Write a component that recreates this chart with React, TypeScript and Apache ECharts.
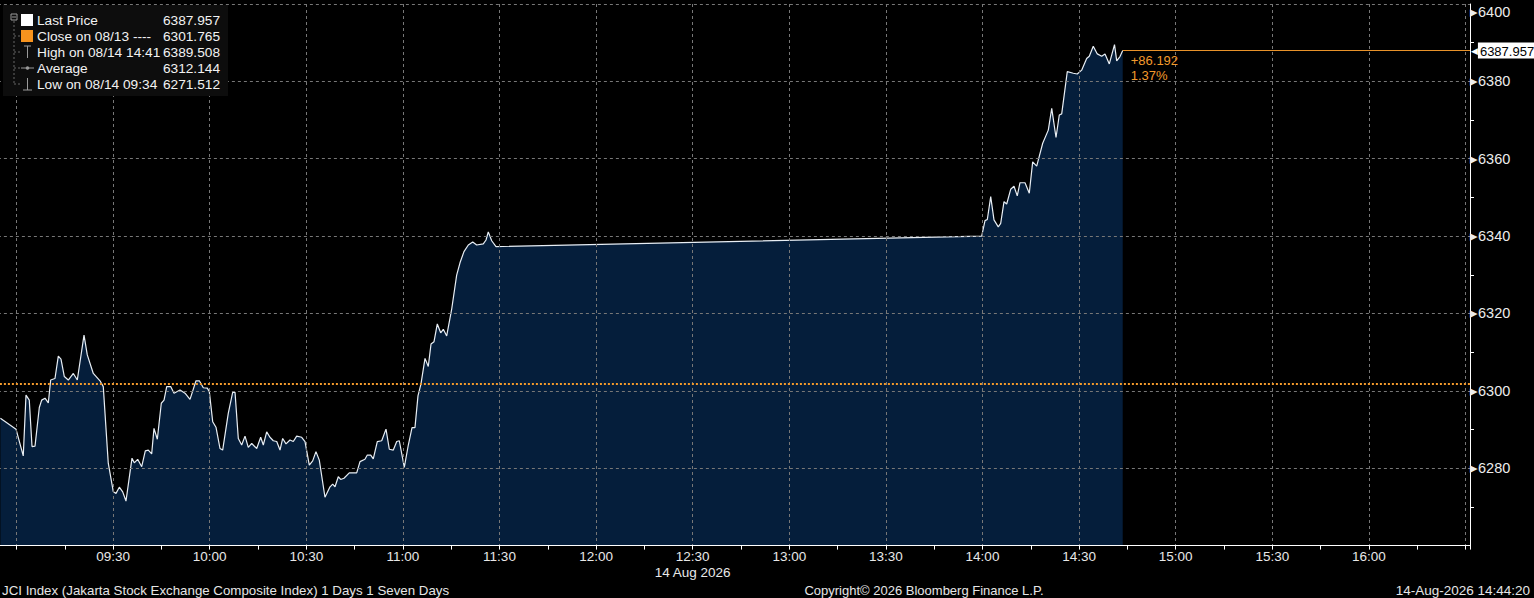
import React, { useEffect, useRef } from "react";
import * as echarts from "echarts";

// ---- data -----------------------------------------------------------------
const times: string[] = [
  "08:55:00", "08:59:51", "09:02:06", "09:02:57", "09:03:58", "09:04:49", "09:05:45", "09:07:05",
  "09:07:49", "09:08:51", "09:09:53", "09:10:37", "09:11:57", "09:12:59", "09:13:49", "09:14:51",
  "09:16:05", "09:17:39", "09:18:53", "09:20:58", "09:21:59", "09:23:51", "09:25:56", "09:26:57",
  "09:28:30", "09:30:04", "09:30:54", "09:31:56", "09:32:59", "09:34:00", "09:35:52", "09:36:35",
  "09:37:38", "09:38:53", "09:40:00", "09:40:56", "09:41:59", "09:42:42", "09:43:44", "09:44:58",
  "09:45:49", "09:46:39", "09:47:53", "09:48:55", "09:50:47", "09:52:20", "09:53:53", "09:55:45",
  "09:56:47", "09:58:01", "09:59:15", "09:59:53", "10:00:56", "10:01:57", "10:03:12", "10:04:02",
  "10:05:46", "10:07:08", "10:07:52", "10:08:53", "10:09:56", "10:10:58", "10:11:59", "10:13:03",
  "10:14:36", "10:15:50", "10:16:39", "10:17:42", "10:18:43", "10:19:45", "10:20:49", "10:21:50",
  "10:22:40", "10:23:42", "10:24:56", "10:25:58", "10:27:01", "10:28:34", "10:29:36", "10:30:56",
  "10:31:59", "10:33:00", "10:34:02", "10:35:48", "10:37:22", "10:38:12", "10:38:55", "10:39:56",
  "10:40:41", "10:41:42", "10:43:21", "10:45:39", "10:46:41", "10:48:13", "10:48:57", "10:50:00",
  "10:50:48", "10:52:03", "10:53:25", "10:54:45", "10:55:47", "10:57:01", "10:58:05", "10:58:53",
  "11:00:26", "11:01:41", "11:02:50", "11:03:45", "11:04:41", "11:05:37", "11:06:52", "11:07:53",
  "11:08:44", "11:09:40", "11:10:41", "11:11:44", "11:12:33", "11:13:36", "11:15:09", "11:16:42",
  "11:17:44", "11:18:58", "11:20:19", "11:21:41", "11:22:55", "11:24:58", "11:25:49", "11:26:31",
  "11:27:35", "11:28:55",
  "13:59:45", "14:00:47", "14:01:30", "14:02:33", "14:03:34", "14:04:54", "14:05:39", "14:06:41",
  "14:07:31", "14:08:45", "14:09:47", "14:10:48", "14:11:39", "14:13:12", "14:14:32", "14:15:35",
  "14:16:50", "14:18:42", "14:20:26", "14:21:30", "14:22:50", "14:23:51", "14:24:36", "14:26:20",
  "14:28:12", "14:29:26", "14:30:48", "14:32:21", "14:33:10", "14:34:24", "14:35:39", "14:37:01",
  "14:38:03", "14:39:23", "14:41:00", "14:41:41", "14:42:42", "14:43:33",
];

const prices: number[] = [
  6292.9, 6290.1, 6283.2, 6298.9, 6297.6, 6285.6, 6285.7, 6295.7,
  6297.6, 6298.1, 6296.9, 6302.8, 6303.2, 6309.0, 6308.2, 6303.7,
  6302.8, 6304.5, 6302.8, 6314.4, 6309.3, 6304.5, 6302.6, 6301.1,
  6281.3, 6273.9, 6273.5, 6275.1, 6273.9, 6271.512, 6282.6, 6281.4,
  6282.3, 6280.4, 6284.5, 6284.7, 6283.7, 6290.3, 6287.5, 6296.8,
  6297.6, 6301.1, 6301.1, 6299.4, 6300.2, 6299.4, 6297.8, 6302.6,
  6302.6, 6300.8, 6300.7, 6299.8, 6292.0, 6290.6, 6285.1, 6284.7,
  6294.2, 6299.6, 6299.6, 6287.7, 6286.0, 6288.3, 6285.4, 6286.4,
  6285.1, 6288.0, 6286.0, 6289.4, 6288.0, 6287.1, 6286.9, 6284.7,
  6287.7, 6286.3, 6287.3, 6286.9, 6288.3, 6288.0, 6286.9, 6280.8,
  6281.9, 6284.3, 6282.1, 6272.5, 6275.2, 6275.9, 6275.2, 6277.8,
  6277.1, 6277.4, 6278.8, 6278.8, 6281.7, 6282.3, 6283.4, 6283.4,
  6282.4, 6286.9, 6287.1, 6290.1, 6284.9, 6284.7, 6286.9, 6287.1,
  6280.2, 6286.0, 6290.5, 6290.5, 6298.7, 6301.8, 6308.4, 6306.3,
  6312.1, 6312.7, 6317.3, 6315.0, 6315.9, 6314.2, 6321.1, 6329.9,
  6333.1, 6336.0, 6337.7, 6338.5, 6337.7, 6338.0, 6339.0, 6341.1,
  6338.8, 6337.3,
  6340.0, 6344.0, 6344.3, 6350.2, 6344.2, 6342.4, 6343.3, 6348.9,
  6348.3, 6352.1, 6352.9, 6350.4, 6353.8, 6353.8, 6351.1, 6359.2,
  6358.1, 6364.0, 6367.4, 6373.0, 6365.5, 6371.3, 6371.6, 6382.5,
  6382.1, 6381.9, 6382.9, 6385.9, 6386.5, 6389.1, 6387.1, 6386.5,
  6387.1, 6384.5, 6389.508, 6385.3, 6386.4, 6387.957,
];

const previousClose = 6301.765;
const legendLabels: string[] = [
  "Last Price",
  "Close on 08/13 ----",
  "High on 08/14 14:41",
  "Average",
  "Low on 08/14 09:34",
];
const legendValues: string[] = ["6387.957", "6301.765", "6389.508", "6312.144", "6271.512"];
const dateLabel = "14 Aug 2026";
const dateLabelTime = "12:30";
const footerLeft = "JCI Index (Jakarta Stock Exchange Composite Index) 1 Days 1 Seven Days";
const footerCenter = "Copyright\u00A9 2026 Bloomberg Finance L.P.";
const footerRight = "14-Aug-2026 14:44:20";

// axis ranges (minutes since midnight / index points)
const xMin = 510; // 08:30 (off-screen, keeps ticks aligned)
const xMax = 991.4;
const xFirstLabel = 570; // 09:30
const xLastLabel = 960; // 16:00
const yMin = 6260;
const yMax = 6400;
const yStep = 20;

const FONT = "'Liberation Sans', Arial, sans-serif";
const ORANGE = "#f39a2c";

const toMinutes = (s: string) => {
  const [h, m, sec] = s.split(":").map(Number);
  return h * 60 + m + (sec || 0) / 60;
};
const fmtHM = (v: number) => {
  const m = Math.round(v);
  const h = Math.floor(m / 60);
  const mm = m % 60;
  return `${String(h).padStart(2, "0")}:${String(mm).padStart(2, "0")}`;
};

export default function App() {
  const ref = useRef<HTMLDivElement>(null);

  useEffect(() => {
    if (!ref.current) return;
    const chart = echarts.init(ref.current, undefined, { renderer: "svg" });

    const seriesData = times.map((t, i) => [toMinutes(t), prices[i]]);
    const lastT = toMinutes(times[times.length - 1]);
    const lastP = prices[prices.length - 1];
    const change = lastP - previousClose;
    const pct = (change / previousClose) * 100;

    const rows = [20, 36, 52, 68, 84];
    const grey = "#9a9a9a";
    const LFS = 13.7;
    const legendGraphics: any[] = [
      { type: "rect", shape: { x: 3, y: 5, width: 225, height: 91 }, style: { fill: "#0d0d0d" }, z: 100 },
      // tree
      { type: "rect", shape: { x: 11, y: 14, width: 6, height: 6 }, style: { fill: "none", stroke: grey, lineWidth: 1 }, z: 101 },
      { type: "line", shape: { x1: 12, y1: 17, x2: 16, y2: 17 }, style: { stroke: grey, lineWidth: 1 }, z: 101 },
      { type: "line", shape: { x1: 14, y1: 21, x2: 14, y2: 84 }, style: { stroke: "#666", lineWidth: 1, lineDash: [2, 2] }, z: 101 },
      ...rows.slice(1).map((y) => ({
        type: "line", shape: { x1: 14, y1: y, x2: 20, y2: y }, style: { stroke: "#666", lineWidth: 1, lineDash: [2, 2] }, z: 101,
      })),
      // icons
      { type: "rect", shape: { x: 21, y: 14, width: 12, height: 12 }, style: { fill: "#ffffff" }, z: 101 },
      { type: "rect", shape: { x: 21, y: 30, width: 12, height: 12 }, style: { fill: "#f7931e" }, z: 101 },
      { type: "line", shape: { x1: 24, y1: 46, x2: 31, y2: 46 }, style: { stroke: grey, lineWidth: 1 }, z: 101 },
      { type: "line", shape: { x1: 27.5, y1: 46, x2: 27.5, y2: 58 }, style: { stroke: grey, lineWidth: 1 }, z: 101 },
      { type: "line", shape: { x1: 21, y1: 68, x2: 34, y2: 68 }, style: { stroke: grey, lineWidth: 1 }, z: 101 },
      { type: "circle", shape: { cx: 27.5, cy: 68, r: 1.8 }, style: { fill: grey }, z: 101 },
      { type: "line", shape: { x1: 27.5, y1: 78, x2: 27.5, y2: 90 }, style: { stroke: grey, lineWidth: 1 }, z: 101 },
      { type: "line", shape: { x1: 23, y1: 90, x2: 32, y2: 90 }, style: { stroke: grey, lineWidth: 1 }, z: 101 },
      ...legendLabels.map((label, i) => ({
        type: "text", x: 37, y: rows[i], z: 101,
        style: { text: label, fill: "#f2f2f2", fontSize: LFS, fontFamily: FONT, textAlign: "left", textVerticalAlign: "middle" },
      })),
      ...legendValues.map((val, i) => ({
        type: "text", x: 220, y: rows[i], z: 101,
        style: { text: val, fill: "#f2f2f2", fontSize: LFS, fontFamily: FONT, textAlign: "right", textVerticalAlign: "middle" },
      })),
    ];

    const FFS = 13;
    const footer: any[] = [
      { type: "text", x: 2, y: 590, z: 101, style: { text: footerLeft, fill: "#e6e6e6", fontSize: 13.3, fontFamily: FONT, textAlign: "left", textVerticalAlign: "middle" } },
      { type: "text", x: 924, y: 590, z: 101, style: { text: footerCenter, fill: "#e6e6e6", fontSize: FFS, fontFamily: FONT, textAlign: "center", textVerticalAlign: "middle" } },
      { type: "text", x: 1530, y: 590, z: 101, style: { text: footerRight, fill: "#e6e6e6", fontSize: 13.5, fontFamily: FONT, textAlign: "right", textVerticalAlign: "middle" } },
    ];

    const gridLine = { color: "#777777", width: 1, type: [3, 3] as any };

    chart.setOption({
      animation: false,
      backgroundColor: "#000000",
      textStyle: { fontFamily: FONT },
      grid: {
        left: -80.1,
        right: 64,
        top: 4,
        bottom: 52.4,
        containLabel: false,
        outerBoundsMode: "none",
      } as any,
      xAxis: {
        type: "value",
        min: xMin,
        max: xMax,
        interval: 30,
        z: 3,
        axisLine: { show: true, lineStyle: { color: "#ffffff", width: 1 } },
        axisTick: { show: true, length: 4, lineStyle: { color: "#ffffff" } },
        minorTick: { show: true, splitNumber: 2, length: 4, lineStyle: { color: "#ffffff" } },
        splitLine: { show: true, lineStyle: gridLine },
        axisLabel: {
          margin: 3,
          color: "#e8e8e8",
          fontSize: 13.5,
          fontFamily: FONT,
          lineHeight: 16,
          formatter: (v: number) => {
            if (v < xFirstLabel - 0.01 || v > xLastLabel + 0.01) return "";
            const s = fmtHM(v);
            return s === dateLabelTime ? `${s}\n${dateLabel}` : s;
          },
        },
      },
      yAxis: {
        type: "value",
        position: "right",
        min: yMin,
        max: yMax,
        interval: yStep,
        z: 3,
        axisLine: { show: true, lineStyle: { color: "#ffffff", width: 1 } },
        axisTick: { show: false },
        minorTick: { show: true, splitNumber: 2, length: 4, lineStyle: { color: "#ffffff" } },
        splitLine: { show: true, lineStyle: gridLine },
        axisLabel: {
          margin: 0,
          fontSize: 14.5,
          color: "#ececec",
          fontFamily: FONT,
          overflow: "none",
          verticalAlignMaxLabel: "top",
          formatter: (v: number) => (v <= yMin ? "" : `\u25B8${v}`),
        },
      },
      series: [
        {
          type: "line",
          data: seriesData,
          symbol: "none",
          clip: true,
          z: 2,
          lineStyle: { color: "#e8eef4", width: 1.2 },
          areaStyle: { color: "#051e3b", opacity: 1 },
          markLine: {
            silent: true,
            symbol: ["none", "none"],
            z: 4,
            data: [
              {
                yAxis: previousClose,
                lineStyle: { color: ORANGE, width: 2, type: [2, 2] as any },
                label: { show: false },
              },
              [
                {
                  coord: [lastT, lastP],
                  lineStyle: { color: "#e8922a", width: 1, type: "solid" },
                  label: {
                    show: true,
                    position: "end",
                    distance: 1,
                    formatter: `{a|\u25C0}{b|${lastP.toFixed(3)}}`,
                    rich: {
                      a: { color: "#ffffff", fontSize: 9, fontFamily: "DejaVu Sans" },
                      b: {
                        color: "#000000",
                        backgroundColor: "#ffffff",
                        fontSize: 13,
                        fontFamily: FONT,
                        padding: [2, 3, 1, 2],
                      },
                    },
                  },
                },
                { coord: [xMax, lastP] },
              ],
            ],
          },
          markPoint: {
            silent: true,
            symbol: "rect",
            symbolSize: 0,
            z: 5,
            data: [
              {
                coord: [lastT, lastP],
                label: {
                  show: true,
                  position: [8, 2],
                  align: "left",
                  verticalAlign: "top",
                  color: ORANGE,
                  fontSize: 13,
                  fontFamily: FONT,
                  lineHeight: 15,
                  formatter: `+${change.toFixed(3)}\n${pct.toFixed(2)}%`,
                },
              },
            ],
          },
        },
      ],
      graphic: [...legendGraphics, ...footer],
    } as any);

    return () => chart.dispose();
  }, []);

  return (
    <div
      ref={ref}
      style={{ position: "fixed", left: 0, top: 0, width: 1534, height: 598, background: "#000" }}
    />
  );
}
